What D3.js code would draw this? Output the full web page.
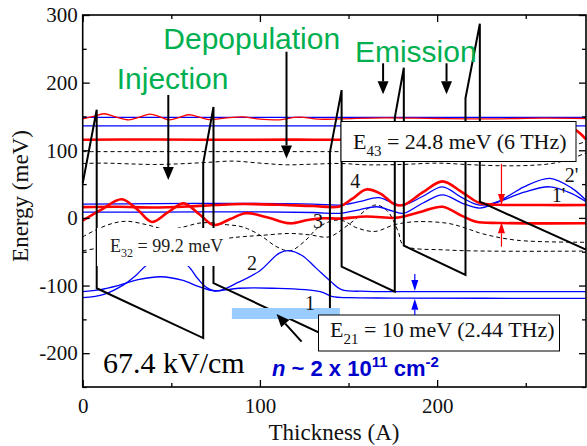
<!DOCTYPE html>
<html><head><meta charset="utf-8">
<script src="https://cdn.jsdelivr.net/npm/d3@7"></script>
<style>
html,body{margin:0;padding:0;background:#fff;}
svg{display:block;}
</style></head>
<body><svg id="c" width="587" height="446"></svg>
<script>
// ---------------- data ----------------
const xDomain = [0, 284];
const yDomain = [-250, 300];
const xTicks = [0, 100, 200];
const xMinorTicks = [50, 150, 250];
const yTicks = [-200, -100, 0, 100, 200, 300];
const yMinorTicks = [-250, -150, -50, 50, 150, 250];

// conduction band profile [thickness, energy]
const band = [[0,51],[7.9,160],[7.9,-104],[68,-177.6],[68,81],[73.8,164],[73.8,-96.3],[139.5,-177],[139.5,97],[146.1,189],[146.1,-72],[176.1,-109],[176.1,148],[181.2,222],[181.2,-41],[216,-84.4],[216,177],[224.1,287],[224.1,24],[284,-47]];

// upper manifold
const redThinTop = [[0,146.5],[6,150],[12,154],[19,149],[26,145],[32,149],[38,153.5],[44,149],[49,145],[55,149],[60,152.5],[66,149],[71,145.5],[80,147.5],[90,149.5],[100,146],[110,145],[122,149],[133,146],[146,146.5],[170,148],[200,147],[230,146.5],[260,147.5],[284,147]];
const blueTop1 = [[0,148.5],[284,148.5]];
const blueTop2 = [[0,136],[284,136]];
const redThickTop = [[0,115.5],[40,116],[80,115.5],[120,115.8],[145,115.5],[200,116],[235,118],[258,126],[270,133],[278,130],[284,116]];
const dashTop1 = [[0,98],[50,98],[100,98],[140,98],[200,98],[250,99],[268,102],[278,108],[284,113]];
const dashTop2 = [[0,80.5],[12,81],[25,80],[40,79],[55,80],[70,82],[85,84],[100,81],[115,78.5],[130,79.5],[145,80.5],[160,78.5],[180,79],[200,81],[220,78.5],[240,77],[255,78],[266,81],[276,88],[284,96]];

// lower manifold
const blueA = [[0,20.5],[40,21],[88,21.6],[130,20.5],[145,19],[156,24],[167,30],[175,22],[181,19],[192,32],[203,46],[214,30],[224,19],[235,25],[249,46],[263.6,58.5],[276,44],[284,26]];
const blueB = [[0,8.5],[40,8.5],[88,9],[130,8],[145,6.8],[156,12],[166,16.5],[175,10],[181,6.8],[192,22],[203,34],[214,22],[224,14.6],[235,24],[249,38],[263.6,46],[276,36],[284,24]];
const redUp = [[0,16],[20,16.5],[40,15.5],[60,17],[75,19],[90,20.5],[110,19.5],[130,17.5],[145,17],[152,28],[160,42],[168,36],[176,20],[181,19],[192,38],[203,54],[214,38],[224,22],[235,19.5],[260,19],[284,19]];
const redLow = [[0,-4],[11,13],[22,27.5],[31,12],[39,-6],[48,8],[57,21.5],[66,5],[74,-10.5],[83,-2],[92,7],[104,1],[117,-8],[127,-3],[136,-0.5],[145,-1],[160,2],[176,0],[181,2],[192,10],[203,16.5],[214,3],[222,-5.7],[235,-7.5],[284,-8]];
const dashA = [[0,-28],[8,-17],[17,-8],[25,-5],[36,-10],[45,-16],[52,-16],[59,-12],[65,-8],[72,-7],[81,-10],[88,-12],[93,-16],[101,-27],[109,-42],[117,-48.6],[125,-35],[134,-12],[145,-3],[155,-15],[165,-20],[176,-10],[188,-5.6],[206,-8],[216,-15],[225,-23],[245,-33],[284,-36]];
const dashB = [[0,-48.6],[8,-45],[20,-40],[40,-35],[60,-35],[75,-32],[89,-28],[100,-26],[117,-23],[128,-25],[139,-28],[150,-10],[165,19],[172,10],[178,-20],[181,-40],[206,-47.5],[284,-49]];
const blue1 = [[0,-109],[10,-106],[20,-100],[32,-91],[44,-87],[56,-92],[66,-102],[74,-108],[88,-104],[107,-104],[134,-109],[141,-116.5],[150,-118],[176,-118.5],[284,-119]];
const blue2 = [[0,-118],[12,-113],[23,-99],[30,-85],[36,-70],[47,-55],[59,-70],[65,-90],[70,-103],[76,-108],[88,-95],[100,-78],[111,-52],[117,-48.6],[124,-56],[132,-75],[140,-94],[146,-106],[160,-108.5],[176,-109],[284,-109]];

// annotations (data coords)
const greenLabels = [{t:"Injection", x:19.2, y:190}, {t:"Depopulation", x:45.5, y:250}, {t:"Emission", x:153.6, y:230}];
const blackArrows = [[48.3,181.7,48.3,56],[115,245.7,115,88],[169.5,228.6,169.5,182.7],[205.3,228.6,205.3,182.7],[123.5,-183,109.4,-142]];
const redArrows = [[236.3,80,236.3,19],[236.3,-42.6,236.3,-6.5]];
const blueArrows = [[187.4,-83,187.4,-108],[187.4,-143.6,187.4,-119.5]];
const stateLabels = [{t:"4",x:151,y:44.2},{t:"3",x:130,y:-14.9},{t:"2",x:92.7,y:-77},{t:"1",x:125.4,y:-136},{t:"2'",x:272,y:53},{t:"1'",x:264.7,y:23.5}];
const dopingBar = [84.2, 145.1, -133.2, -149.5];

// ---------------- drawing ----------------
const svg = d3.select("#c");
const x = d3.scaleLinear().domain(xDomain).range([82.7, 586]);
const y = d3.scaleLinear().domain(yDomain).range([387, 15]);
const serif = "'Liberation Serif','Times New Roman',serif";
const sans = "'Liberation Sans',Arial,sans-serif";

const line = d3.line().x(d=>x(d[0])).y(d=>y(d[1])).curve(d3.curveCatmullRom.alpha(0.5));
const lin = d3.line().x(d=>x(d[0])).y(d=>y(d[1]));

const plot = svg.append("g");
function curve(data, color, w, dash){
  plot.append("path").attr("d", line(data)).attr("fill","none")
    .attr("stroke", color).attr("stroke-width", w)
    .attr("stroke-dasharray", dash || null);
}
curve(dashTop1, "#000", 1, "4,3");
curve(dashTop2, "#000", 1, "4,3");
curve(dashA, "#000", 1, "4,3");
curve(dashB, "#000", 1, "4,3");
curve(blueTop1, "#0000ff", 1.3);
curve(blueTop2, "#0000ff", 1.3);
curve(blue1, "#0000ff", 1.3);
curve(blue2, "#0000ff", 1.3);
curve(blueA, "#0000ff", 1.3);
curve(blueB, "#0000ff", 1.3);
curve(redThinTop, "#ff0000", 1.3);
curve(redThickTop, "#ff0000", 2.6);
curve(redUp, "#ff0000", 2.6);
curve(redLow, "#ff0000", 2.6);

// band profile
plot.append("path").attr("d", lin(band)).attr("fill","none").attr("stroke","#000").attr("stroke-width",2).attr("stroke-linejoin","miter");

// doping bar
plot.append("rect").attr("x", x(dopingBar[0])).attr("y", y(dopingBar[2]))
  .attr("width", x(dopingBar[1])-x(dopingBar[0])).attr("height", y(dopingBar[3])-y(dopingBar[2]))
  .attr("fill","#99ccff");

// E32 label (white background, no frame)
svg.append("rect").attr("x",97).attr("y",228).attr("width",131).attr("height",38).attr("fill","#fff");
const t32 = svg.append("text").attr("x",110).attr("y",252).attr("font-family",serif).attr("font-size",18).attr("fill","#222");
t32.append("tspan").text("E");
t32.append("tspan").attr("font-size",12).attr("dy",5).text("32");
t32.append("tspan").attr("dy",-5).text(" = 99.2 meV");

// E43 box
svg.append("rect").attr("x",341).attr("y",121.5).attr("width",235).attr("height",40).attr("fill","#fff").attr("stroke","#000").attr("stroke-width",1);
const t43 = svg.append("text").attr("x",353).attr("y",148.5).attr("font-family",serif).attr("font-size",22).attr("fill","#111");
t43.append("tspan").text("E");
t43.append("tspan").attr("font-size",15).attr("dy",7).text("43");
t43.append("tspan").attr("dy",-7).text(" = 24.8 meV (6 THz)");

// E21 box
svg.append("rect").attr("x",318.5).attr("y",315).attr("width",241).attr("height",36).attr("fill","#fff").attr("stroke","#000").attr("stroke-width",1);
const t21 = svg.append("text").attr("x",330).attr("y",337).attr("font-family",serif).attr("font-size",22).attr("fill","#111");
t21.append("tspan").text("E");
t21.append("tspan").attr("font-size",15).attr("dy",7).text("21");
t21.append("tspan").attr("dy",-7).text(" = 10 meV (2.44 THz)");

// arrows
function arrow(a, color, w, hw, hl){
  const x1=x(a[0]), y1=y(a[1]), x2=x(a[2]), y2=y(a[3]);
  const ang = Math.atan2(y2-y1, x2-x1);
  const bx = x2 - hl*Math.cos(ang), by = y2 - hl*Math.sin(ang);
  svg.append("line").attr("x1",x1).attr("y1",y1).attr("x2",bx).attr("y2",by).attr("stroke",color).attr("stroke-width",w);
  const px = -Math.sin(ang)*hw/2, py = Math.cos(ang)*hw/2;
  svg.append("path").attr("d",`M${x2},${y2}L${bx+px},${by+py}L${bx-px},${by-py}Z`).attr("fill",color);
}
blackArrows.forEach(a=>arrow(a,"#000",2,11,13));
redArrows.forEach(a=>arrow(a,"#ff0000",1.2,7,11));
blueArrows.forEach(a=>arrow(a,"#0000ff",1.2,7,11));

// green labels
greenLabels.forEach(g=>{
  svg.append("text").attr("x",x(g.x)).attr("y",y(g.y)).attr("font-family",sans).attr("font-size",30).attr("fill","#00b050").text(g.t);
});

// state labels
stateLabels.forEach(s=>{
  svg.append("text").attr("x",x(s.x)).attr("y",y(s.y)).attr("font-family",serif).attr("font-size",20).attr("fill","#111").text(s.t);
});

// field label
svg.append("text").attr("x",103).attr("y",373).attr("font-family",serif).attr("font-size",30).attr("fill","#000").text("67.4 kV/cm");

// density label
const tn = svg.append("text").attr("x",272).attr("y",376).attr("font-family",sans).attr("font-weight","bold").attr("font-size",22).attr("fill","#0000cc");
tn.append("tspan").attr("font-style","italic").text("n");
tn.append("tspan").text(" ~ 2 x 10");
tn.append("tspan").attr("font-size",15).attr("dy",-9).text("11");
tn.append("tspan").attr("dy",9).text(" cm");
tn.append("tspan").attr("font-size",15).attr("dy",-9).text("-2");

// axes
const ax = svg.append("g");
function styleAxis(g){
  g.select(".domain").remove();
  g.selectAll(".tick line").attr("stroke","#000").attr("stroke-width",1.3);
  g.selectAll(".tick text").attr("font-family",serif).attr("font-size",21).attr("fill","#111");
}
ax.append("g").attr("transform",`translate(0,387)`).call(d3.axisBottom(x).tickValues(xTicks).tickSize(-7).tickPadding(11).tickFormat(d3.format("d"))).call(styleAxis);
ax.append("g").attr("transform",`translate(0,387)`).call(d3.axisBottom(x).tickValues(xMinorTicks).tickSize(-4).tickFormat("")).call(styleAxis);
ax.append("g").attr("transform",`translate(0,15)`).call(d3.axisTop(x).tickValues(xTicks).tickSize(-7).tickFormat("")).call(styleAxis);
ax.append("g").attr("transform",`translate(0,15)`).call(d3.axisTop(x).tickValues(xMinorTicks).tickSize(-4).tickFormat("")).call(styleAxis);
ax.append("g").attr("transform",`translate(82.7,0)`).call(d3.axisLeft(y).tickValues(yTicks).tickSize(-7).tickPadding(5).tickFormat(d3.format("d"))).call(styleAxis);
ax.append("g").attr("transform",`translate(82.7,0)`).call(d3.axisLeft(y).tickValues(yMinorTicks).tickSize(-4).tickFormat("")).call(styleAxis);
ax.append("g").attr("transform",`translate(586,0)`).call(d3.axisRight(y).tickValues(yTicks).tickSize(-7).tickFormat("")).call(styleAxis);
ax.append("g").attr("transform",`translate(586,0)`).call(d3.axisRight(y).tickValues(yMinorTicks).tickSize(-4).tickFormat("")).call(styleAxis);
ax.selectAll("text").filter(function(){return this.textContent.startsWith("−");}).text(function(){return this.textContent.replace("−","-");});
svg.append("rect").attr("x",82.7).attr("y",15).attr("width",586-82.7).attr("height",372).attr("fill","none").attr("stroke","#000").attr("stroke-width",1.6);

// axis titles
svg.append("text").attr("x",334).attr("y",440).attr("text-anchor","middle").attr("font-family",serif).attr("font-size",23).attr("fill","#111").text("Thickness (A)");
svg.append("text").attr("transform","translate(28,196) rotate(-90)").attr("text-anchor","middle").attr("font-family",serif).attr("font-size",23).attr("fill","#111").text("Energy (meV)");
</script></body></html>
